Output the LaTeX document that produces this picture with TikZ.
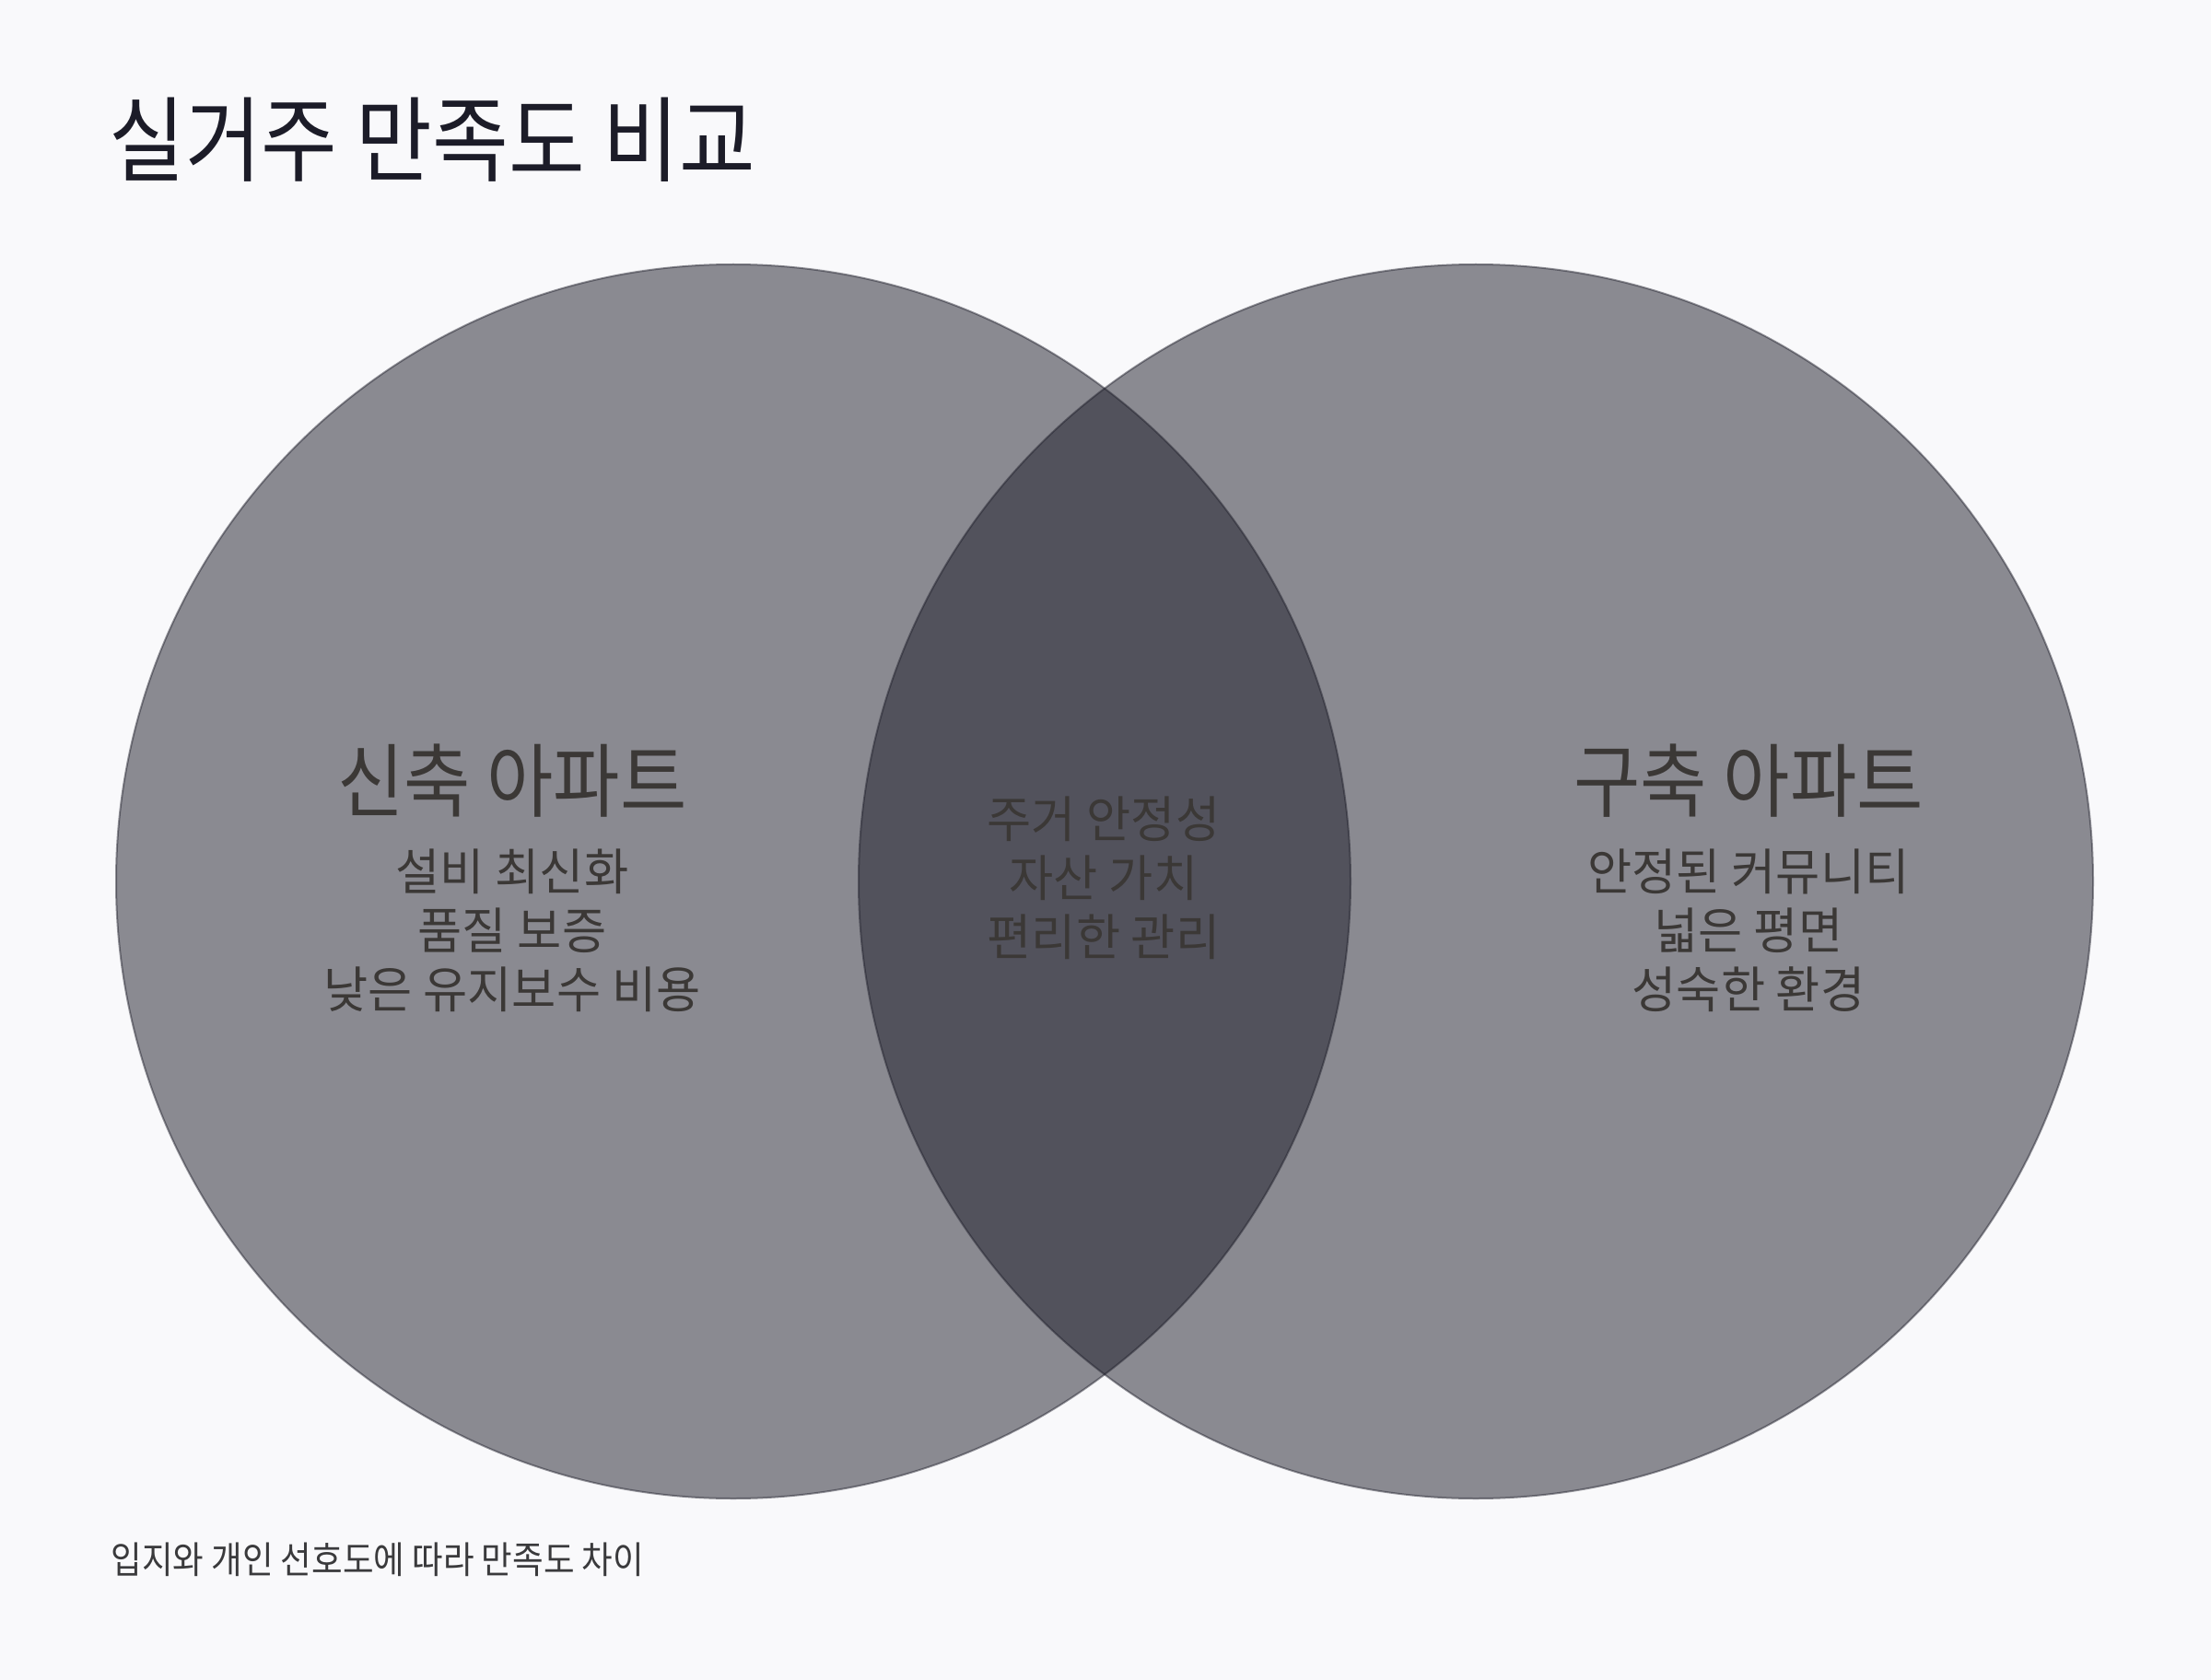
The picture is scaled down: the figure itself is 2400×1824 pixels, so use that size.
\documentclass[tikz,border=0pt]{standalone}
\usepackage{fontspec}
\usepackage{xcolor}
\usetikzlibrary{positioning}
\newfontfamily\titlefont[FakeStretch=0.89]{Noto Sans CJK KR}
\newfontfamily\headfont[FakeStretch=0.9]{Noto Sans CJK KR}
\newfontfamily\bodyfont[FakeStretch=0.97]{Noto Sans CJK KR}
\newfontfamily\notefont[FakeStretch=0.9]{Noto Sans CJK KR}
\definecolor{paper}{HTML}{F9F9FB}
\definecolor{ink}{HTML}{1C1C28}
\definecolor{setink}{HTML}{3B3836}
\definecolor{noteink}{HTML}{3A3A3C}
\tikzset{
  setdisc/.style={
    fill=ink, fill opacity=0.5, draw=ink, draw opacity=0.45, line width=1pt
  },
  sethead/.style={
    font=\headfont\fontsize{43.7}{52}\selectfont, text=setink, inner sep=0pt
  },
  setbody/.style={
    font=\bodyfont\fontsize{27}{32}\selectfont, text=setink, align=center, inner sep=0pt
  },
}
\begin{document}
\begin{tikzpicture}[x=0.5pt, y=-0.5pt]
  % Page
  \fill[paper] (0,0) rectangle (2400,1824);
  \useasboundingbox (0,0) rectangle (2400,1824);

  % Title
  \node[anchor=west, inner sep=0pt, text=ink, font=\titlefont\fontsize{50.5}{60}\selectfont]
    (title) at (118,152) {실거주 만족도 비교};

  % The two sets
  \coordinate (newc) at (796,957);
  \coordinate (oldc) at (1602,957);
  \path[setdisc] (newc) circle[radius=335pt];
  \path[setdisc] (oldc) circle[radius=335pt];

  % Left set
  \node[sethead] (newhead) at (556,848) {신축 아파트};
  \node[setbody] (newbody) at (556,1010) {설비 최신화\\품질 보증\\낮은 유지보수 비용};

  % Overlap
  \node[setbody] (both) at (1198,953) {주거 안정성\\자산 가치\\편리한 관리};

  % Right set
  \node[sethead] (oldhead) at (1898,848) {구축 아파트};
  \node[setbody] (oldbody) at (1898,1010) {안정된 커뮤니티\\넓은 평면\\성숙한 환경};

  % Note
  \node[anchor=west, inner sep=0pt, text=noteink, font=\notefont\fontsize{20.3}{24}\selectfont]
    (note) at (120,1693) {입지와 개인 선호도에 따라 만족도 차이};
\end{tikzpicture}
\end{document}
